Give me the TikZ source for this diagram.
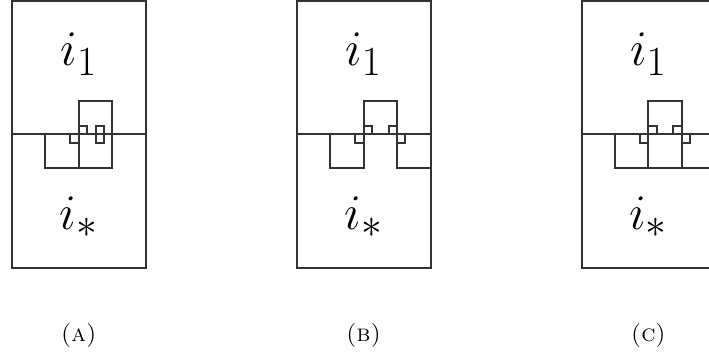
\documentclass[tikz,border=0pt]{standalone}
\usepackage{tikz}

\begin{document}
\begin{tikzpicture}[x=0.5pt,y=-0.5pt,line width=1pt,draw=black!80,
    idx/.style={anchor=base,font=\Huge},
    capt/.style={anchor=base,font=\large}]
  \useasboundingbox (0,0) rectangle (709,362);
  \clip (0,0) rectangle (709,362);

  % common part of the three panels
  \foreach \px/\lab in {11.9/a,296.7/b,581.5/c}{
    \begin{scope}[shift={(\px,0.6)},x=16.725pt,y=-16.725pt]
      \draw (0,0) rectangle (4,8);
      \draw (0,4) -- (4,4);
      \draw (2,3) rectangle (3,4);
      \draw (1,4) rectangle (2,5);
      \draw (1.75,4) rectangle (2,4.25);
      \draw (2,3.75) rectangle (2.25,4);
      \node[idx] (one-\lab) at (2,1.95) {$i_1$};
      \node[idx] (star-\lab) at (2,6.85) {$i_*$};
      \node[capt] (cap-\lab) at (2,10.2) {\textsc{(\lab)}};
    \end{scope}
  }

  % (a)
  \begin{scope}[shift={(11.9,0.6)},x=16.725pt,y=-16.725pt]
    \draw (2,4) rectangle (3,5);
    \draw (2.5,3.75) rectangle (2.75,4.25);
  \end{scope}

  % (b)
  \begin{scope}[shift={(296.7,0.6)},x=16.725pt,y=-16.725pt]
    \draw (3,4) rectangle (4,5);
    \draw (2.75,3.75) rectangle (3,4);
    \draw (3,4) rectangle (3.25,4.25);
  \end{scope}

  % (c)
  \begin{scope}[shift={(581.5,0.6)},x=16.725pt,y=-16.725pt]
    \draw (2,4) rectangle (3,5);
    \draw (3,4) rectangle (4,5);
    \draw (2.75,3.75) rectangle (3,4);
    \draw (3,4) rectangle (3.25,4.25);
  \end{scope}
\end{tikzpicture}
\end{document}
